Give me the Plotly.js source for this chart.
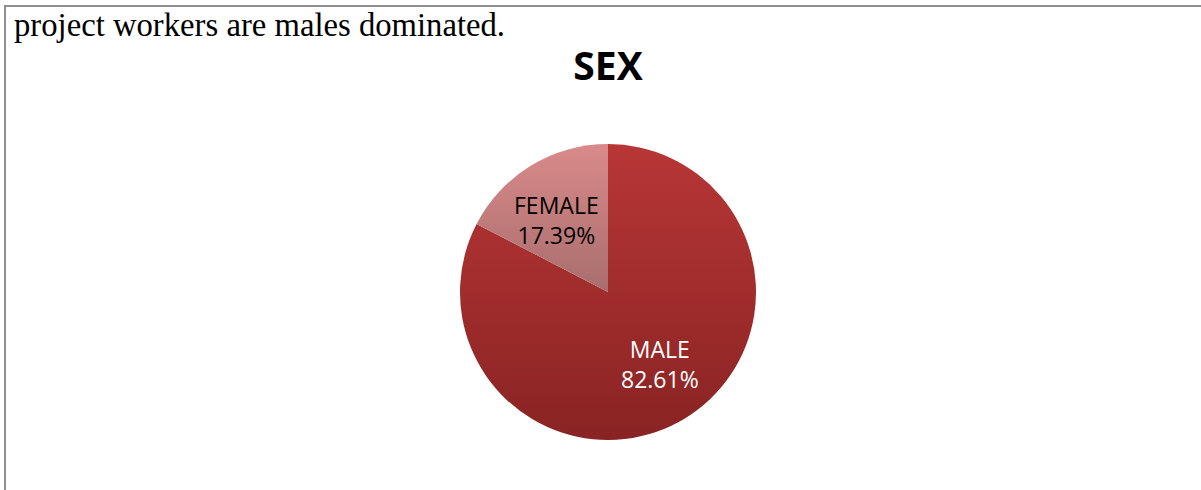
<!DOCTYPE html>
<html>
<head>
<meta charset="utf-8">
<script src="https://cdn.plot.ly/plotly-3.0.1.min.js"></script>
<style>
  html, body { margin: 0; padding: 0; background: #ffffff; }
  #wrap { position: relative; width: 1201px; height: 490px; overflow: hidden; }
  #frame { position: absolute; left: 4px; top: 5px; width: 1200px; height: 490px;
           border-top: 2px solid #8f8f8f; border-left: 2px solid #8f8f8f; box-sizing: border-box; pointer-events: none; }
  #chart { position: absolute; left: 0; top: 0; width: 1201px; height: 490px; }
</style>
</head>
<body>
<div id="wrap">
  <div id="chart"></div>
  <div id="frame"></div>
</div>
<script>
const categories = ['MALE', 'FEMALE'];
const shares = [82.61, 17.39];
const sliceColors = ['#a42e2e', '#c47878'];
const sliceTopColors = ['#b83636', '#da8a8a'];
const sliceBottomColors = ['#892323', '#a86d6d'];
const labelColors = ['#ffffff', '#000000'];
const chartTitle = 'SEX';
const leadText = 'project workers are males dominated.';

const W = 1201, H = 490;
const m = { l: 459, r: 444, t: 144, b: 50 };
const pw = W - m.l - m.r, ph = H - m.t - m.b;
const R = Math.min(pw, ph) / 2;
const labelRadius = 0.6;
const labelAngleShift = -4.5 * Math.PI / 180;

const trace = {
  type: 'pie',
  labels: categories,
  values: shares,
  sort: false,
  direction: 'clockwise',
  rotation: 0,
  marker: { colors: sliceColors, line: { width: 0 } },
  textinfo: 'none',
  hoverinfo: 'label+percent',
  showlegend: false
};

// slice labels placed near each slice's mid-angle, derived from the data
const total = shares.reduce(function (a, b) { return a + b; }, 0);
let cum = 0;
const sliceLabels = categories.map(function (c, i) {
  const frac = shares[i] / total;
  const mid = (cum + frac / 2) * 2 * Math.PI + labelAngleShift; // clockwise from 12 o'clock
  cum += frac;
  const dx = labelRadius * R * Math.sin(mid);
  const dy = labelRadius * R * Math.cos(mid);
  return {
    text: c + '<br>' + (frac * 100).toFixed(2) + '%',
    xref: 'paper', yref: 'paper',
    x: 0.5 + dx / pw, y: 0.5 + dy / ph,
    xanchor: 'center', yanchor: 'middle',
    showarrow: false,
    font: { family: 'Open Sans, sans-serif', size: 23, color: labelColors[i] }
  };
});

const layout = {
  width: W, height: H,
  margin: m,
  paper_bgcolor: '#ffffff',
  plot_bgcolor: '#ffffff',
  showlegend: false,
  title: {
    text: '<b>' + chartTitle + '</b>',
    font: { family: 'Open Sans, sans-serif', size: 39, color: '#000000' },
    x: 608 / W, xanchor: 'center',
    y: 1 - 66 / H, yanchor: 'middle'
  },
  annotations: [{
    text: leadText,
    xref: 'paper', yref: 'paper',
    x: (12 - m.l) / pw, xanchor: 'left',
    y: 1 + (m.t - 25) / ph, yanchor: 'middle',
    showarrow: false,
    font: { family: 'Liberation Serif, Times New Roman, serif', size: 32.7, color: '#000000' }
  }].concat(sliceLabels)
};

Plotly.newPlot('chart', [trace], layout, { displayModeBar: false, staticPlot: true }).then(function (gd) {
  const svgNS = 'http://www.w3.org/2000/svg';
  const svg = gd.querySelector('svg.main-svg');
  let defs = svg.querySelector('defs');
  if (!defs) { defs = document.createElementNS(svgNS, 'defs'); svg.insertBefore(defs, svg.firstChild); }
  categories.forEach(function (c, i) {
    const g = document.createElementNS(svgNS, 'linearGradient');
    g.setAttribute('id', 'sliceGrad' + i);
    g.setAttribute('x1', '0'); g.setAttribute('y1', '0');
    g.setAttribute('x2', '0'); g.setAttribute('y2', '1');
    [[0, sliceTopColors[i]], [1, sliceBottomColors[i]]].forEach(function (s) {
      const st = document.createElementNS(svgNS, 'stop');
      st.setAttribute('offset', String(s[0]));
      st.setAttribute('stop-color', s[1]);
      g.appendChild(st);
    });
    defs.appendChild(g);
  });
  gd.querySelectorAll('g.slice path.surface').forEach(function (p, i) {
    p.style.fill = 'url(#sliceGrad' + i + ')';
  });
});
</script>
</body>
</html>
